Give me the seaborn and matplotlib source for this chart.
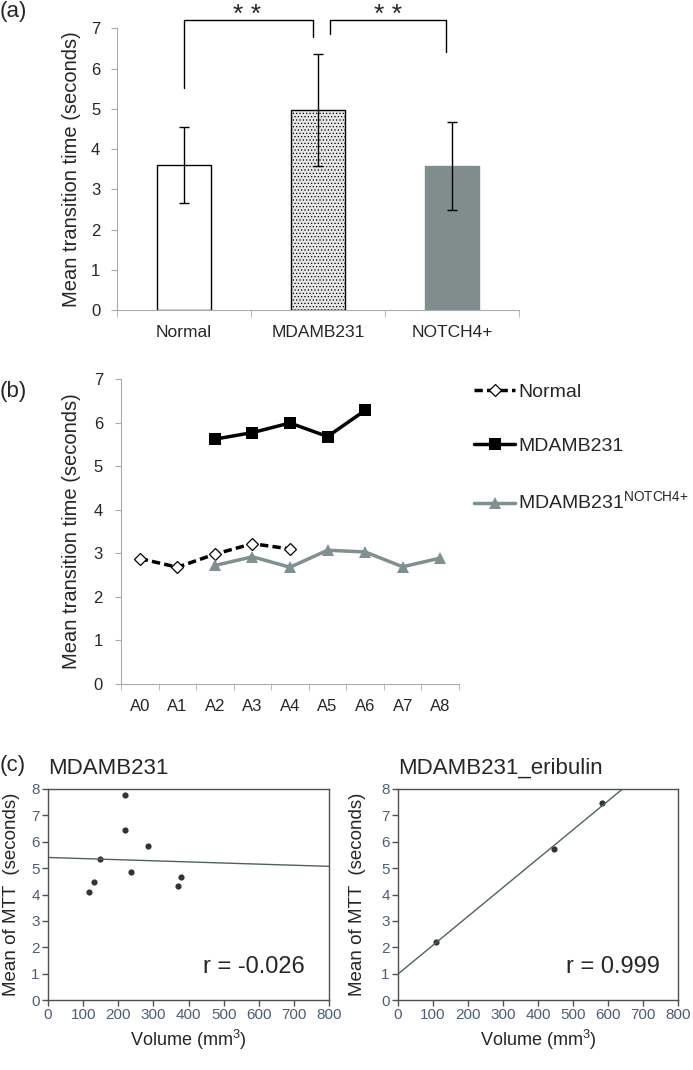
import matplotlib
matplotlib.use('Agg')
import numpy as np
import pandas as pd
import matplotlib.pyplot as plt
import seaborn as sns

sns.set_style('ticks')
plt.rcParams['font.family'] = ['Liberation Sans', 'DejaVu Sans']
plt.rcParams['hatch.linewidth'] = 0.5

# (a) mean transition time per group
groups = ['Normal', 'MDAMB231', 'NOTCH4+']
group_means = [3.60, 4.97, 3.58]
group_sd = [0.94, 1.39, 1.09]

# (b) mean transition time over time points
time_points = ['A0', 'A1', 'A2', 'A3', 'A4', 'A5', 'A6', 'A7', 'A8']
normal_times = ['A0', 'A1', 'A2', 'A3', 'A4']
normal_mtt = [2.88, 2.68, 2.98, 3.22, 3.10]
mda_times = ['A2', 'A3', 'A4', 'A5', 'A6']
mda_mtt = [5.62, 5.77, 5.99, 5.68, 6.28]
notch_times = ['A2', 'A3', 'A4', 'A5', 'A6', 'A7', 'A8']
notch_mtt = [2.72, 2.92, 2.68, 3.07, 3.03, 2.69, 2.89]

# (c) tumour volume vs mean MTT
vol_mda = [117, 132, 148, 219, 219, 236, 286, 369, 379]
mtt_mda = [4.09, 4.48, 5.34, 7.76, 6.44, 4.84, 5.82, 4.31, 4.67]
vol_eri = [108, 446, 584]
mtt_eri = [2.21, 5.71, 7.48]

W, H = 693, 1070
fig = plt.figure(figsize=(W / 100, H / 100), dpi=100)


def px_axes(l, t, r, b):
    return fig.add_axes([l / W, 1 - b / H, (r - l) / W, (b - t) / H])


axis_gray = '#a7adad'

# ---------------- (a) ----------------
ax_a = px_axes(117, 28.3, 519, 310)
df_a = pd.DataFrame({'group': groups, 'mtt': group_means})
sns.barplot(data=df_a, x='group', y='mtt', hue='group', hue_order=groups,
            palette=['white', '#e6e6e6', '#7f8f8f'], width=0.4,
            errorbar=None, legend=False, ax=ax_a)
for patch, ec, hatch in zip(ax_a.patches, ['black', 'black', '#7f8f8f'],
                            [None, '.....', None]):
    patch.set_edgecolor(ec)
    patch.set_linewidth(1)
    if hatch:
        patch.set_hatch(hatch)
ax_a.errorbar(x=np.arange(len(groups)), y=group_means, yerr=group_sd,
              fmt='none', ecolor='black', elinewidth=1, capsize=3.5, capthick=1)

# significance brackets
for xs, ys, sx in [([0, 0, 0.963, 0.963], [5.51, 7.2, 7.2, 6.78], 0.47),
                   ([1.09, 1.09, 1.955, 1.955], [6.85, 7.2, 7.2, 6.4], 1.52)]:
    ax_a.plot(xs, ys, color='black', lw=1, clip_on=False)
    ax_a.text(sx, 7.33, '* *', ha='center', va='center', fontsize=19,
              clip_on=False)

ax_a.set_xlim(-0.5, 2.5)
ax_a.set_ylim(0, 7)
ax_a.set_yticks(range(8))
ax_a.set_xticks([-0.5, 0.5, 1.5, 2.5], minor=True)
ax_a.tick_params(axis='x', which='major', length=0, pad=11, labelsize=12.5)
ax_a.tick_params(axis='x', which='minor', length=5, color=axis_gray)
ax_a.tick_params(axis='y', length=4, color=axis_gray, pad=8, labelsize=12)
ax_a.set_xlabel('')
ax_a.set_ylabel('Mean transition time (seconds)', fontsize=14.5, va='center')
ax_a.yaxis.set_label_coords((72 - 117) / 402, 0.5)
sns.despine(ax=ax_a)
for s in ['left', 'bottom']:
    ax_a.spines[s].set_color(axis_gray)

# ---------------- (b) ----------------
ax_b = px_axes(121, 379, 459, 684)
pos = {t: i for i, t in enumerate(time_points)}
sns.lineplot(x=[pos[t] for t in normal_times], y=normal_mtt, ax=ax_b,
             color='black', linestyle=(0, (2.4, 1.2)), lw=2.5, marker='D',
             markersize=6, markerfacecolor='white', markeredgecolor='black',
             markeredgewidth=0.9, label='Normal')
sns.lineplot(x=[pos[t] for t in mda_times], y=mda_mtt, ax=ax_b,
             color='black', lw=2.5, marker='s', markersize=9,
             markeredgewidth=0, label='MDAMB231')
sns.lineplot(x=[pos[t] for t in notch_times], y=notch_mtt, ax=ax_b,
             color='#7f9090', lw=2.5, marker='^', markersize=9,
             markeredgewidth=0, label='MDAMB231$^{\\mathregular{NOTCH4{+}}}$')
ax_b.set_xlim(-0.5, 8.5)
ax_b.set_ylim(0, 7)
ax_b.set_yticks(range(8))
ax_b.set_xticks(range(len(time_points)))
ax_b.set_xticklabels(time_points)
ax_b.set_xticks(np.arange(-0.5, 9, 1), minor=True)
ax_b.tick_params(axis='x', which='major', length=0, pad=11, labelsize=12)
ax_b.tick_params(axis='x', which='minor', length=4, color=axis_gray)
ax_b.tick_params(axis='y', length=4, color=axis_gray, pad=9, labelsize=12)
ax_b.set_ylabel('Mean transition time (seconds)', fontsize=14.5, va='center')
ax_b.yaxis.set_label_coords((72 - 121) / 338, 0.5)
sns.despine(ax=ax_b)
for s in ['left', 'bottom']:
    ax_b.spines[s].set_color(axis_gray)
ax_b.legend(loc='upper left', bbox_to_anchor=(1.045, 0.985), frameon=False,
            fontsize=14, labelspacing=1.85, handlelength=2.1,
            handletextpad=0.15, borderaxespad=0, borderpad=0)

# ---------------- (c) ----------------
ax_c1 = px_axes(48, 789, 329, 1000)
ax_c2 = px_axes(398, 789, 678, 1000)
tick_col = '#4d5d78'
frame_col = '#505050'
for ax, vol, mtt, title, rtxt, rx, ylx in [
        (ax_c1, vol_mda, mtt_mda, 'MDAMB231', 'r = -0.026', 730, (12 - 48) / 281),
        (ax_c2, vol_eri, mtt_eri, 'MDAMB231_eribulin', 'r = 0.999', 749, (357 - 398) / 280)]:
    ax.set_xlim(0, 800)
    ax.set_ylim(0, 8)
    sns.regplot(x=vol, y=mtt, ax=ax, ci=None, truncate=False, color='black',
                scatter_kws=dict(s=20, linewidths=0),
                line_kws=dict(color='#4f6262', lw=1))
    ax.set_xlim(0, 800)
    ax.set_ylim(0, 8)
    ax.set_xticks(range(0, 801, 100))
    ax.set_yticks(range(9))
    ax.tick_params(length=4, width=1, color=frame_col, labelsize=11,
                   labelcolor=tick_col, pad=2)
    for s in ax.spines.values():
        s.set_color(frame_col)
        s.set_linewidth(1)
    ax.set_title(title, loc='left', fontsize=16, pad=11)
    ax.set_xlabel('Volume (mm$\\mathregular{^3}$)', fontsize=13, labelpad=4)
    ax.set_ylabel('Mean of MTT  (seconds)', fontsize=13.5, va='center')
    ax.yaxis.set_label_coords(ylx, 0.5)
    ax.text(rx, 1.25, rtxt, ha='right', va='center', fontsize=17)

fig.text(0, 1 - 12 / H, '(a)', fontsize=16, va='center')
fig.text(0, 1 - 392 / H, '(b)', fontsize=16, va='center')
fig.text(0, 1 - 765 / H, '(c)', fontsize=16, va='center')

fig.savefig('out.png', dpi=100)
